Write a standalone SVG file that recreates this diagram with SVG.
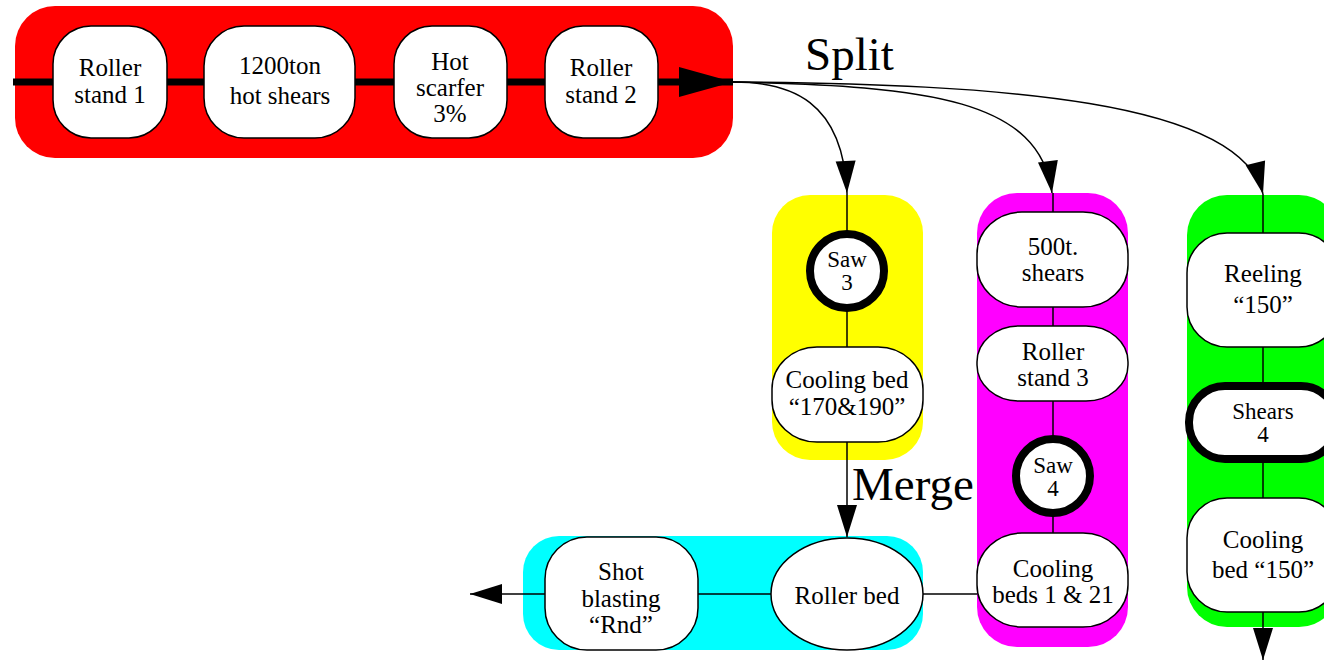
<svg xmlns="http://www.w3.org/2000/svg" width="1324" height="664" viewBox="0 0 1324 664">
<style>
.n{fill:#fff;stroke:#000;stroke-width:1.5}
.nb{fill:#fff;stroke:#000;stroke-width:8}
.t{font-family:"Liberation Serif","Times New Roman",serif;font-size:25px;text-anchor:middle;fill:#000}
.s{font-size:23px}
.big{font-family:"Liberation Serif","Times New Roman",serif;font-size:47px;fill:#000}
.c{fill:none;stroke:#000;stroke-width:1.5}
</style>
<defs>
<marker id="ah" markerUnits="userSpaceOnUse" markerWidth="32" markerHeight="20" refX="32" refY="10" orient="auto" overflow="visible">
<path d="M0,0 L32,10 L0,20 z" fill="#000"/>
</marker>
<marker id="bigah" markerUnits="userSpaceOnUse" markerWidth="54" markerHeight="30" refX="54" refY="15" orient="auto" overflow="visible">
<path d="M0,0 L54,15 L0,30 z" fill="#000"/>
</marker>
</defs>
<g id="bands">
<rect x="15" y="6" width="718" height="152" rx="40" fill="#ff0000"/>
<rect x="772" y="195" width="151" height="265" rx="38" fill="#ffff00"/>
<rect x="977" y="193" width="151" height="454" rx="40" fill="#ff00ff"/>
<rect x="1187" y="195" width="152" height="432" rx="40" fill="#00ff00"/>
<rect x="523" y="536" width="400" height="114" rx="36" fill="#00ffff"/>
</g>
<g id="connectors">
<path d="M13,82 L733,82" fill="none" stroke="#000" stroke-width="7" marker-end="url(#bigah)"/>
<path class="c" d="M733,82 C790,82 843,100 847,193" marker-end="url(#ah)"/>
<path class="c" d="M733,82 C930,86 1040,100 1052,193" marker-end="url(#ah)"/>
<path class="c" d="M733,82 C1000,84 1240,100 1263,194" marker-end="url(#ah)"/>
<path class="c" d="M847,193 L847,537" marker-end="url(#ah)"/>
<path class="c" d="M1053,193 L1053,533"/>
<path class="c" d="M1263,194 L1263,660" marker-end="url(#ah)"/>
<path class="c" d="M977,594 L470,594" marker-end="url(#ah)"/>
<text class="big" x="805" y="70">Split</text>
<text class="big" x="852" y="500">Merge</text>
</g>
<g id="roller-stand-1">
<rect class="n" x="53" y="26" width="114" height="112" rx="38"/>
<text class="t" x="110" y="76">Roller</text>
<text class="t" x="110" y="103">stand 1</text>
</g>
<g id="hot-shears">
<rect class="n" x="204" y="26" width="151" height="112" rx="40"/>
<text class="t" x="280" y="74">1200ton</text>
<text class="t" x="280" y="104">hot shears</text>
</g>
<g id="hot-scarfer">
<rect class="n" x="394" y="26" width="113" height="112" rx="38"/>
<text class="t" x="450" y="70">Hot</text>
<text class="t" x="450" y="96">scarfer</text>
<text class="t" x="450" y="122">3%</text>
</g>
<g id="roller-stand-2">
<rect class="n" x="545" y="26" width="113" height="112" rx="38"/>
<text class="t" x="601" y="76">Roller</text>
<text class="t" x="601" y="103">stand 2</text>
</g>
<g id="saw-3">
<circle class="nb" cx="847" cy="271" r="37"/>
<text class="t s" x="847" y="267">Saw</text>
<text class="t s" x="847" y="290">3</text>
</g>
<g id="cooling-bed-170-190">
<rect class="n" x="772" y="347" width="151" height="95" rx="45" ry="42"/>
<text class="t" x="847" y="388">Cooling bed</text>
<text class="t" x="847" y="415">“170&amp;190”</text>
</g>
<g id="shears-500t">
<rect class="n" x="977" y="212" width="151" height="95" rx="45" ry="42"/>
<text class="t" x="1053" y="255">500t.</text>
<text class="t" x="1053" y="281">shears</text>
</g>
<g id="roller-stand-3">
<rect class="n" x="977" y="326" width="151" height="75" rx="42" ry="36"/>
<text class="t" x="1053" y="360">Roller</text>
<text class="t" x="1053" y="386">stand 3</text>
</g>
<g id="saw-4">
<circle class="nb" cx="1053" cy="476" r="37"/>
<text class="t s" x="1053" y="473">Saw</text>
<text class="t s" x="1053" y="496">4</text>
</g>
<g id="cooling-beds-1-21">
<rect class="n" x="977" y="533" width="151" height="94" rx="45" ry="42"/>
<text class="t" x="1053" y="577">Cooling</text>
<text class="t" x="1053" y="603">beds 1 &amp; 21</text>
</g>
<g id="reeling-150">
<rect class="n" x="1187" y="233" width="152" height="114" rx="40"/>
<text class="t" x="1263" y="282">Reeling</text>
<text class="t" x="1263" y="313">“150”</text>
</g>
<g id="shears-4">
<rect class="nb" x="1189" y="386" width="148" height="73" rx="36"/>
<text class="t s" x="1263" y="419">Shears</text>
<text class="t s" x="1263" y="442">4</text>
</g>
<g id="cooling-bed-150">
<rect class="n" x="1187" y="498" width="152" height="114" rx="40"/>
<text class="t" x="1263" y="548">Cooling</text>
<text class="t" x="1263" y="578">bed “150”</text>
</g>
<g id="shot-blasting">
<rect class="n" x="545" y="537" width="153" height="113" rx="42"/>
<text class="t" x="621" y="580">Shot</text>
<text class="t" x="621" y="607">blasting</text>
<text class="t" x="621" y="633">“Rnd”</text>
</g>
<g id="roller-bed">
<ellipse class="n" cx="847" cy="594" rx="76" ry="56"/>
<text class="t" x="847" y="604">Roller bed</text>
</g>
</svg>
